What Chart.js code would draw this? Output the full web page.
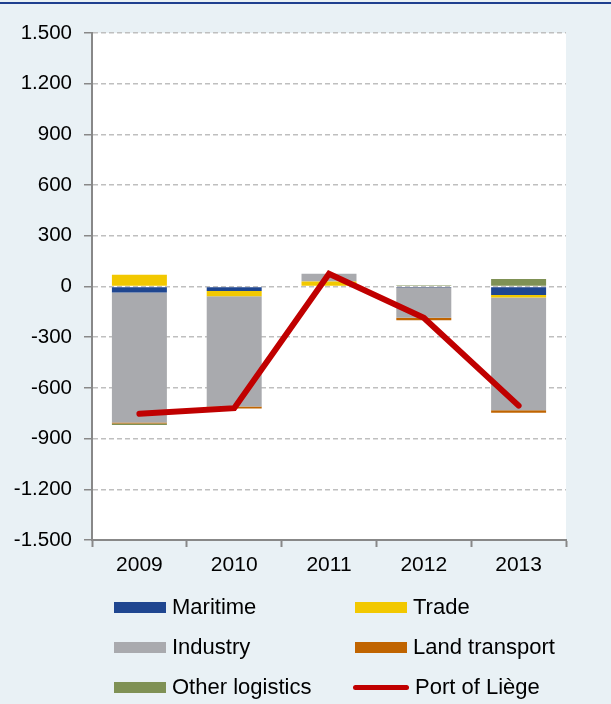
<!DOCTYPE html>
<html>
<head>
<meta charset="utf-8">
<script src="https://cdn.jsdelivr.net/npm/chart.js@4.4.0/dist/chart.umd.min.js"></script>
<style>
  html, body { margin: 0; padding: 0; }
  body { width: 611px; height: 704px; background: #e9f1f5; position: relative; overflow: hidden;
         font-family: "Liberation Sans", Arial, sans-serif; }
  #topline { position: absolute; left: 0; top: 2px; width: 611px; height: 2px; background: #1f3f8f; }
  #wrap { position: absolute; left: 0; top: 0; width: 611px; height: 590px; }
  #legend { position: absolute; left: 0; top: 587px; width: 611px; }
  .item { position: absolute; height: 40px; display: flex; align-items: center; font-size: 22px; color: #000; }
  .sw { width: 52px; height: 11px; margin-right: 6px; }
  .ln { width: 52px; height: 5px; border-radius: 3px; margin-right: 6px; }
</style>
</head>
<body>
<div id="topline"></div>
<div id="wrap"><canvas id="chart"></canvas></div>
<div id="legend"></div>
<script>
const years = ['2009', '2010', '2011', '2012', '2013'];

const maritime       = [-35, -27, -4, -3, -50];
const trade          = [70, -30, 30, 0, -15];
const industry       = [-770, -653, 45, -182, -667];
const landTransport  = [-6, -12, 0, -15, -15];
const otherLogistics = [-8, 0, 0, 8, 45];
const portOfLiege    = [-753, -720, 75, -185, -705];

const yTicks = [-1500, -1200, -900, -600, -300, 0, 300, 600, 900, 1200, 1500];

function fmt(v) {
  // dot as thousands separator
  const s = Math.abs(v).toString().replace(/\B(?=(\d{3})+(?!\d))/g, '.');
  return (v < 0 ? '-' : '') + s;
}

function bar(label, data, color) {
  return { type: 'bar', label, data, backgroundColor: color, stack: 'bars', order: 1,
           categoryPercentage: 1, barPercentage: 0.58 };
}

const whiteArea = {
  id: 'whiteArea',
  beforeDraw(chart) {
    const a = chart.chartArea, ctx = chart.ctx;
    ctx.save();
    ctx.fillStyle = '#ffffff';
    ctx.fillRect(a.left, a.top, a.right - a.left, a.bottom - a.top);
    ctx.restore();
  }
};

Chart.defaults.font.family = '"Liberation Sans", Arial, sans-serif';
Chart.defaults.color = '#000';

const chart = new Chart(document.getElementById('chart'), {
  data: {
    labels: years,
    datasets: [
      bar('Maritime', maritime, '#1f4690'),
      bar('Trade', trade, '#f2c800'),
      bar('Industry', industry, '#a9aaae'),
      bar('Land transport', landTransport, '#c06400'),
      bar('Other logistics', otherLogistics, '#7f9155'),
      {
        type: 'line', label: 'Port of Liège', data: portOfLiege, stack: 'line', order: 0,
        borderColor: '#c00000', backgroundColor: '#c00000', borderWidth: 6,
        pointRadius: 0, borderCapStyle: 'round', borderJoinStyle: 'miter', tension: 0
      }
    ]
  },
  options: {
    responsive: true,
    maintainAspectRatio: false,
    animation: false,
    layout: { padding: { top: 33, left: 13, right: 45, bottom: 10 } },
    plugins: { legend: { display: false }, tooltip: { enabled: false } },
    scales: {
      x: {
        stacked: true,
        afterFit: (axis) => { axis.height = 40; },
        grid: { offset: true, drawOnChartArea: false, tickLength: 7, tickColor: '#888', tickWidth: 2 },
        border: { color: '#888', width: 2 },
        ticks: { font: { size: 21 }, padding: 6 }
      },
      y: {
        stacked: true,
        min: -1500, max: 1500,
        afterBuildTicks: (axis) => { axis.ticks = yTicks.map(v => ({ value: v })); },
        afterFit: (axis) => { axis.width = 79; },
        grid: { color: '#bfbfbf', lineWidth: 1.5, tickLength: 8, tickColor: '#888', tickWidth: 1.5 },
        border: { color: '#888', width: 2, dash: [5, 3] },
        ticks: { font: { size: 20.5 }, padding: 12, callback: (v) => fmt(v) }
      }
    }
  },
  plugins: [whiteArea]
});

// Legend in two columns, built from the datasets
const legendEl = document.getElementById('legend');
const colX = [114, 355];
chart.data.datasets.forEach((ds, i) => {
  const item = document.createElement('div');
  item.className = 'item';
  item.style.left = (colX[i % 2] - (ds.type === 'line' ? 2 : 0)) + 'px';
  item.style.top = (Math.floor(i / 2) * 40) + 'px';
  const sw = document.createElement('span');
  sw.className = ds.type === 'line' ? 'ln' : 'sw';
  sw.style.background = ds.type === 'line' ? ds.borderColor : ds.backgroundColor;
  if (ds.type === 'line') sw.style.width = '56px';
  const txt = document.createElement('span');
  txt.textContent = ds.label;
  item.appendChild(sw);
  item.appendChild(txt);
  legendEl.appendChild(item);
});
</script>
</body>
</html>
